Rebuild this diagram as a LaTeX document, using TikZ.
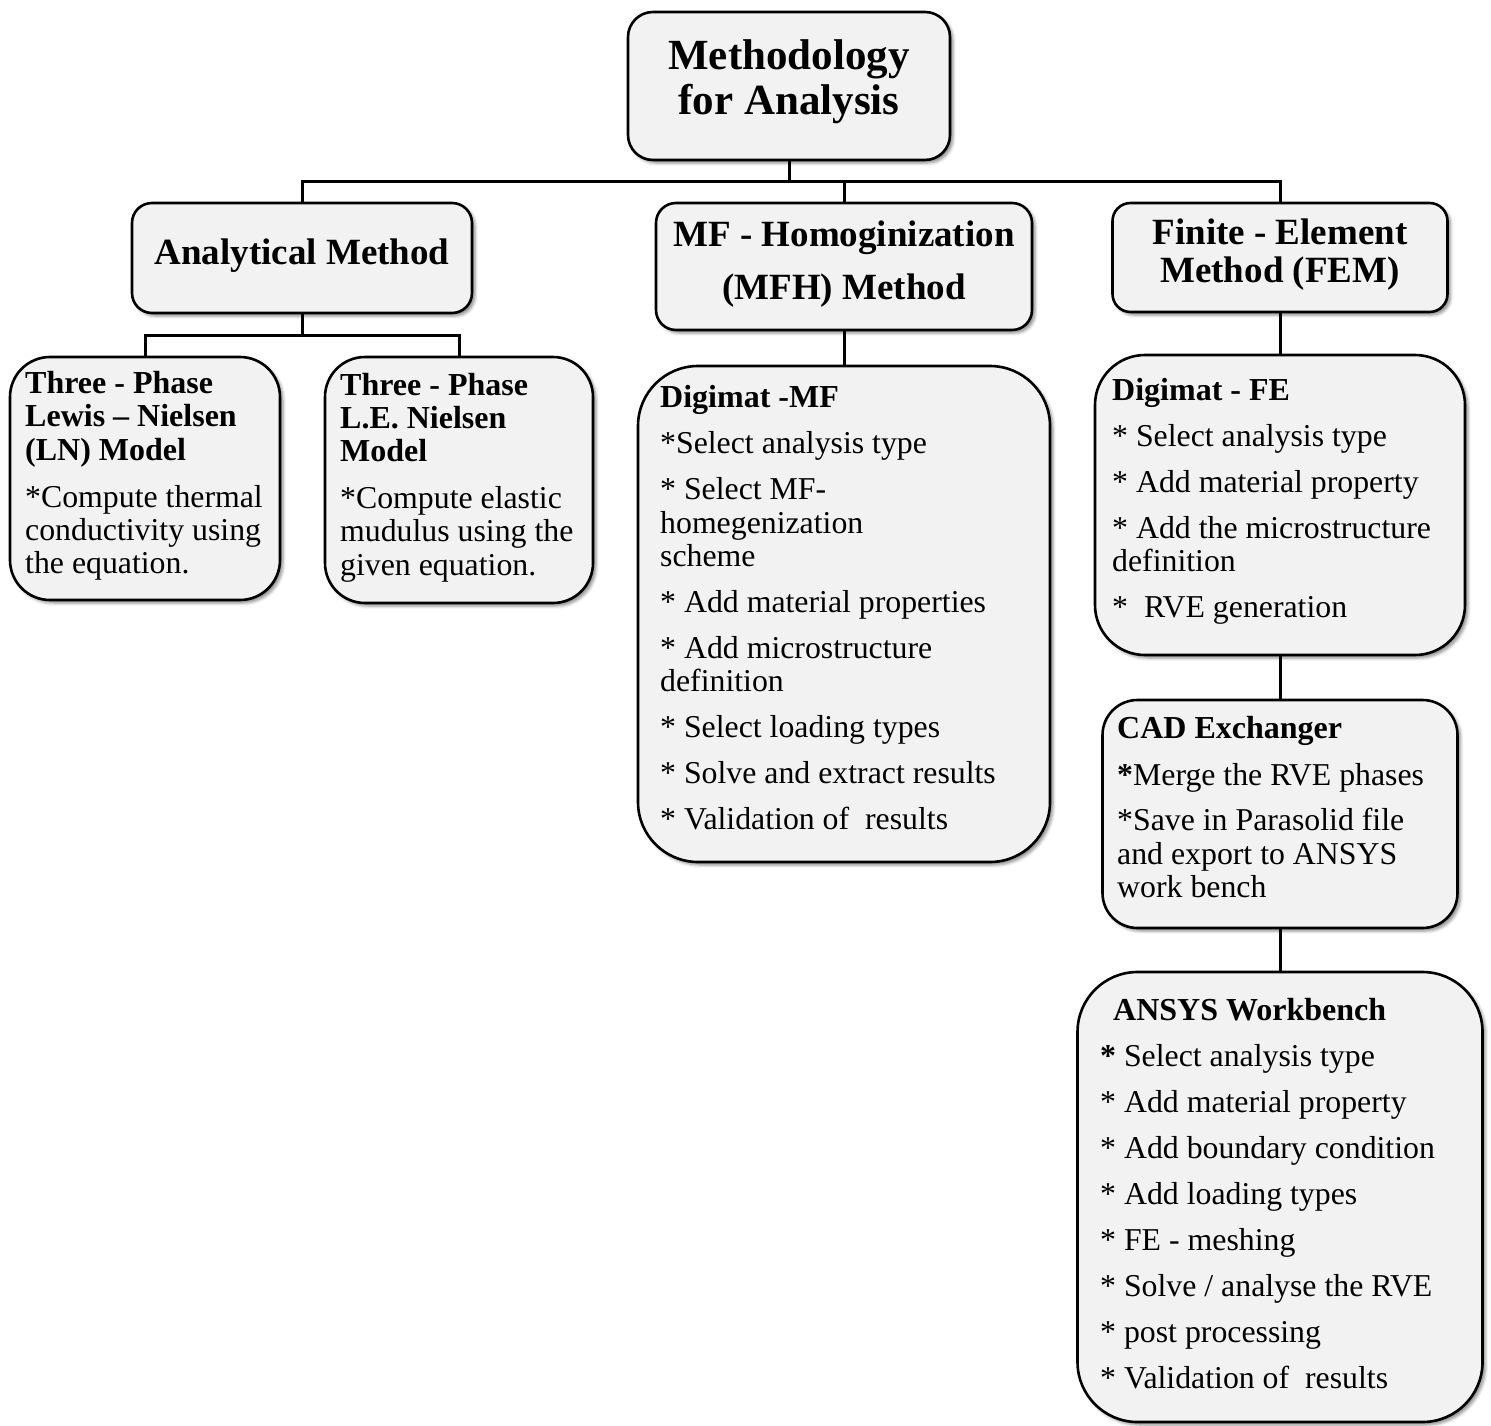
\documentclass[tikz,border=0pt]{standalone}
\usepackage{fontspec}
\setmainfont{Liberation Serif}
\usetikzlibrary{shadows.blur}
\pgfdeclarelayer{bg}
\pgfsetlayers{bg,main}
\definecolor{boxfill}{HTML}{F2F2F2}
\tikzset{
  box/.style={draw=black, line width=2.6pt, fill=boxfill, inner sep=0pt,
    blur shadow={shadow xshift=3pt, shadow yshift=-3pt, shadow blur radius=3pt, shadow opacity=45}},
  conn/.style={draw=black, line width=3pt},
  toptxt/.style={font=\fontsize{43}{48}\selectfont\bfseries, inner sep=0pt, anchor=base},
  headtxt/.style={font=\fontsize{37}{42}\selectfont\bfseries, inner sep=0pt, anchor=base},
  bt/.style={font=\fontsize{32}{36}\selectfont\bfseries, inner sep=0pt, anchor=base west},
  tt/.style={font=\fontsize{31.8}{35}\selectfont, inner sep=0pt, anchor=base west}
}
\begin{document}
\begin{tikzpicture}[x=1pt,y=-1pt]
\useasboundingbox (0,0) rectangle (1491,1426);

% boxes
\node[box, minimum width=322pt, minimum height=148pt, rounded corners=25pt] (top) at (789,86) {};
\node[box, minimum width=340pt, minimum height=110pt, rounded corners=20pt] (anal) at (302,258) {};
\node[box, minimum width=376pt, minimum height=127pt, rounded corners=20pt] (mfh) at (844,266.5) {};
\node[box, minimum width=335pt, minimum height=109pt, rounded corners=18pt] (fem) at (1280,257.5) {};
\node[box, minimum width=270pt, minimum height=243pt, rounded corners=40pt] (ln) at (145,478.5) {};
\node[box, minimum width=268pt, minimum height=246pt, rounded corners=40pt] (le) at (459,480) {};
\node[box, minimum width=412pt, minimum height=496pt, rounded corners=60pt] (dmf) at (844,614) {};
\node[box, minimum width=370pt, minimum height=300pt, rounded corners=50pt] (dfe) at (1280,505) {};
\node[box, minimum width=355pt, minimum height=228pt, rounded corners=35pt] (cad) at (1280,814) {};
\node[box, minimum width=405pt, minimum height=450pt, rounded corners=60pt] (ans) at (1280,1197) {};

% connectors
\coordinate (busa) at (0,181);
\coordinate (busb) at (0,335);
\begin{pgfonlayer}{bg}
\draw[conn] (top.south) -- (top.south |- busa);
\draw[conn] (anal.north) -- (anal.north |- busa) -- (fem.north |- busa) -- (fem.north);
\draw[conn] (mfh.north) -- (mfh.north |- busa);
\draw[conn] (anal.south) -- (anal.south |- busb);
\draw[conn] (ln.north) -- (ln.north |- busb) -- (le.north |- busb) -- (le.north);
\draw[conn] (mfh.south) -- (dmf.north);
\draw[conn] (fem.south) -- (dfe.north);
\draw[conn] (dfe.south) -- (cad.north);
\draw[conn] (cad.south) -- (ans.north);
\end{pgfonlayer}

% titles
\node[toptxt] (t1) at (789,70) {Methodology};
\node[toptxt] (t2) at (789,115) {for Analysis};
\node[headtxt] (a1) at (302,264) {Analytical Method};
\node[headtxt] (m1) at (844,246) {MF - Homoginization};
\node[headtxt] (m2) at (844,299) {(MFH) Method};
\node[headtxt] (f1) at (1280,244) {Finite - Element};
\node[headtxt] (f2) at (1280,282) {Method (FEM)};

% LN box
\node[bt] (ln1) at (25,393) {Three - Phase};
\node[bt] (ln2) at (25,426) {Lewis \textendash{} Nielsen};
\node[bt] (ln3) at (25,460) {(LN) Model};
\node[tt] (ln4) at (25,507) {*Compute thermal};
\node[tt] (ln5) at (25,540) {conductivity using};
\node[tt] (ln6) at (25,573) {the equation.};

% LE box
\node[bt] (le1) at (340,395) {Three - Phase};
\node[bt] (le2) at (340,428) {L.E. Nielsen};
\node[bt] (le3) at (340,461) {Model};
\node[tt] (le4) at (340,508) {*Compute elastic};
\node[tt] (le5) at (340,541) {mudulus using the};
\node[tt] (le6) at (340,575) {given equation.};

% Digimat-MF
\node[bt] (d1) at (660,407) {Digimat -MF};
\node[tt] (d2) at (660,453) {*Select analysis type};
\node[tt] (d3) at (660,499) {* Select MF-};
\node[tt] (d4) at (660,533) {homegenization};
\node[tt] (d5) at (660,566) {scheme};
\node[tt] (d6) at (660,612) {* Add material properties};
\node[tt] (d7) at (660,658) {* Add microstructure};
\node[tt] (d8) at (660,691) {definition};
\node[tt] (d9) at (660,737) {* Select loading types};
\node[tt] (d10) at (660,783) {* Solve and extract results};
\node[tt] (d11) at (660,829) {* Validation of~ results};

% Digimat-FE
\node[bt] (e1) at (1112,400) {Digimat - FE};
\node[tt] (e2) at (1112,446) {* Select analysis type};
\node[tt] (e3) at (1112,492) {* Add material property};
\node[tt] (e4) at (1112,538) {* Add the microstructure};
\node[tt] (e5) at (1112,571) {definition};
\node[tt] (e6) at (1112,617) {*~ RVE generation};

% CAD
\node[bt] (c1) at (1117,738) {CAD Exchanger};
\node[tt] (c2) at (1117,785) {{\bfseries *}Merge the RVE phases};
\node[tt] (c3) at (1117,830) {*Save in Parasolid file};
\node[tt] (c4) at (1117,864) {and export to ANSYS};
\node[tt] (c5) at (1117,897) {work bench};

% ANSYS
\node[bt] (w1) at (1113,1020) {ANSYS Workbench};
\node[tt] (w2) at (1100,1066) {{\bfseries *} Select analysis type};
\node[tt] (w3) at (1100,1112) {* Add material property};
\node[tt] (w4) at (1100,1158) {* Add boundary condition};
\node[tt] (w5) at (1100,1204) {* Add loading types};
\node[tt] (w6) at (1100,1250) {* FE - meshing};
\node[tt] (w7) at (1100,1296) {* Solve / analyse the RVE};
\node[tt] (w8) at (1100,1342) {* post processing};
\node[tt] (w9) at (1100,1388) {* Validation of~ results};
\end{tikzpicture}
\end{document}
